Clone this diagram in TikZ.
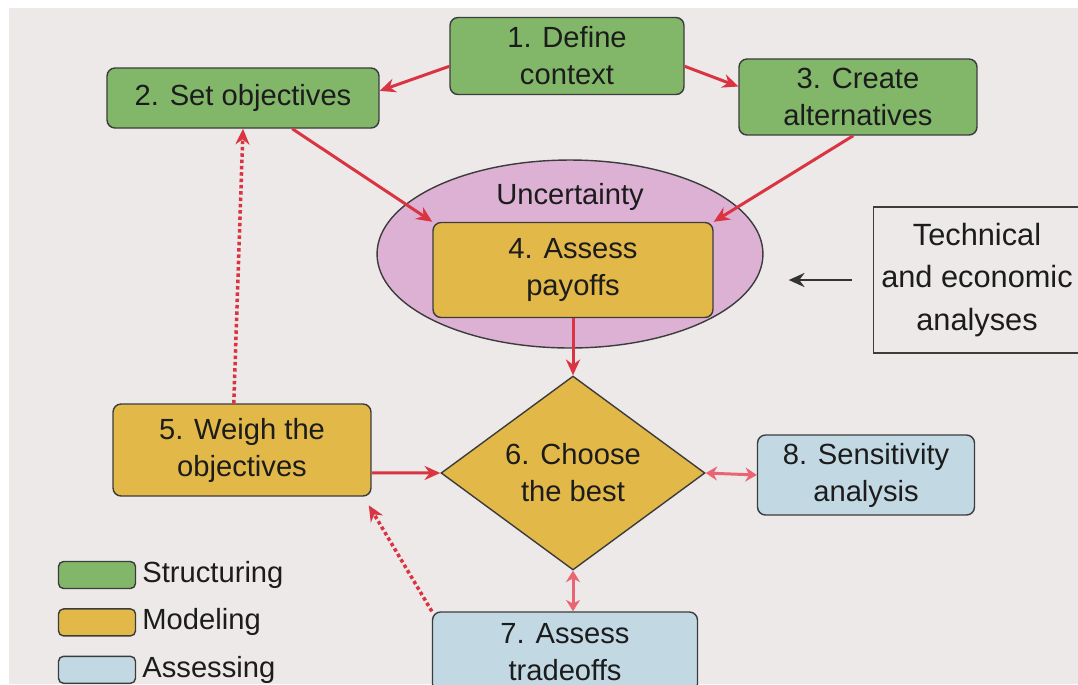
\documentclass[tikz,border=0pt]{standalone}
\usepackage{fontspec}
\setmainfont{Liberation Sans}
\usetikzlibrary{arrows.meta,shapes.geometric,positioning}

\definecolor{structgreen}{RGB}{130,183,106}
\definecolor{modelgold}{RGB}{226,184,72}
\definecolor{assessblue}{RGB}{194,217,228}
\definecolor{uncertpink}{RGB}{221,177,212}
\definecolor{arrowred}{RGB}{218,52,66}
\definecolor{arrowpink}{RGB}{234,100,116}
\definecolor{pagegray}{RGB}{236,233,232}
\definecolor{outline}{RGB}{60,60,60}
\definecolor{inkgray}{RGB}{28,28,28}

\begin{document}
\begin{tikzpicture}[x=0.02cm,y=-0.02cm,>={Stealth[length=9pt,width=8pt]},
                every node/.style={font=\fontsize{16.6}{21}\selectfont,text=inkgray,align=center},
                box node/.style={rectangle,rounded corners=0.16cm,draw=outline,line width=0.8pt,inner sep=2pt},
                struct node/.style={box node,fill=structgreen},
                model node/.style={box node,fill=modelgold},
                assess node/.style={box node,fill=assessblue},
                legend box/.style={rectangle,rounded corners=0.1cm,draw=outline,line width=0.8pt,
                                   minimum width=1.54cm,minimum height=0.54cm},
                flow/.style={->,draw=arrowred,line width=1.7pt},
                loop back/.style={->,draw=arrowred,line width=2pt,dash pattern=on 2pt off 1.6pt},
                both ways/.style={{Stealth[length=6.5pt,width=8pt]}-{Stealth[length=6.5pt,width=8pt]},
                                  draw=arrowpink,line width=1.7pt}]
                \useasboundingbox (0,0) rectangle (1078,684);
                \clip (0,0) rectangle (1078,684);
                \fill[pagegray] (9,8) rectangle (1078,684);

                \node[struct node,minimum width=4.68cm,minimum height=1.54cm] (define) at (567,56) {1. Define\\context};
                \node[struct node,minimum width=5.44cm,minimum height=1.2cm] (objectives) at (243,98) {2. Set objectives};
                \node[struct node,minimum width=4.76cm,minimum height=1.52cm] (alternatives) at (858,97) {3. Create\\alternatives};
                \node[ellipse,draw=outline,line width=0.8pt,fill=uncertpink,
                      minimum width=7.72cm,minimum height=3.76cm] (uncert) at (570,254) {};
                \node (uncertlabel) at (570,197) {Uncertainty};
                \node[model node,minimum width=5.6cm,minimum height=1.9cm] (payoffs) at (573,270) {4. Assess\\payoffs};
                \node[draw=outline,line width=0.6pt,minimum width=4.14cm,minimum height=2.92cm,
                      font=\fontsize{17.5}{24}\selectfont] (technical) at (977,280) {Technical\\and economic\\analyses};
                \node[model node,minimum width=5.16cm,minimum height=1.84cm] (weigh) at (242,450) {5. Weigh the\\objectives};
                \node[diamond,draw=outline,line width=0.8pt,fill=modelgold,inner sep=0pt,
                      minimum width=5.28cm,minimum height=3.52cm] (choose) at (573,473) {6. Choose\\the best};
                \node[assess node,minimum width=4.34cm,minimum height=1.6cm] (sensitivity) at (866,475) {8. Sensitivity\\analysis};
                \node[assess node,minimum width=5.3cm,minimum height=1.6cm] (tradeoffs) at (565,652) {7. Assess\\tradeoffs};

                % legend
                \node[legend box,fill=structgreen] (legstruct) at (97,575) {};
                \node[legend box,fill=modelgold,below=0.38cm of legstruct] (legmodel) {};
                \node[legend box,fill=assessblue,below=0.38cm of legmodel] (legassess) {};
                \node[right=0cm of legstruct] (labstruct) {Structuring};
                \node[right=0cm of legmodel] (labmodel) {Modeling};
                \node[right=0cm of legassess] (labassess) {Assessing};

                \path
                (define.185) edge[flow] (objectives.3)
                (define.-5) edge[flow] (alternatives.175)
                (objectives.-32) edge[flow] (payoffs.north west)
                (alternatives.-97) edge[flow] (payoffs.north east)
                (payoffs.south) edge[flow] (choose.north)
                (weigh.-10) edge[flow] (choose.west)
                (choose.east) edge[both ways] (sensitivity.west)
                (choose.south) edge[both ways] (choose.south |- tradeoffs.north)
                (weigh.100) edge[loop back] (objectives.south)
                (tradeoffs.north west) edge[loop back,shorten >=0.2cm] (weigh.-21)
                (technical.west) edge[->,draw=black!80,line width=1.6pt,shorten <=0.42cm,shorten >=0.5cm]
                    (technical.west -| uncert.east)
                ;
\end{tikzpicture}
\end{document}
